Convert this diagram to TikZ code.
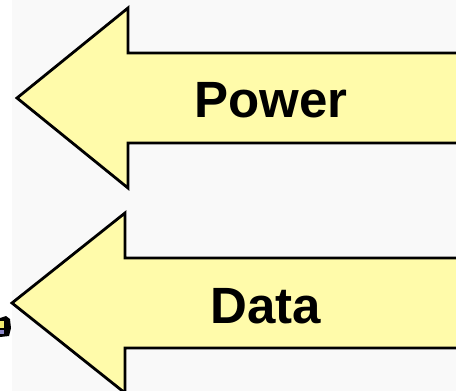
\documentclass[tikz,border=0pt]{standalone}
\usepackage{fontspec}
\setmainfont{Liberation Sans}
\definecolor{bgray}{HTML}{F9F9F9}
\definecolor{pale}{HTML}{FFFBAA}
\definecolor{iconblue}{HTML}{8A86C8}
\definecolor{iconyel}{HTML}{F2EC70}
\begin{document}
\begin{tikzpicture}[x=1pt,y=-1pt,
  bigarrow/.style={fill=pale,draw=black,line width=2.8pt,line join=miter},
  label/.style={font=\bfseries\fontsize{51}{51}\selectfont,text=black,inner sep=0pt}]
\useasboundingbox (0,0) rectangle (456,391);
\clip (0,0) rectangle (456,391);
% page background
\fill[white] (0,0) rectangle (12,391);
\fill[bgray] (12,0) rectangle (456,391);
% upper arrow
\draw[bigarrow] (17,98) -- (128,8) -- (128,53) -- (475,53) -- (475,143)
  -- (128,143) -- (128,188) -- cycle;
% lower arrow
\draw[bigarrow] (12,303) -- (125,213) -- (125,258) -- (475,258) -- (475,348)
  -- (125,348) -- (125,393) -- cycle;
% labels
\node[label] (power) at (271,100) {Power};
\node[label] (data) at (266,306) {Data};
% clipped icon at the left edge
\fill[black] (0,318) -- (6,316) -- (10,319) -- (11,328) -- (9,336) -- (0,337) -- cycle;
\fill[iconyel] (0,321) rectangle (4,328);
\fill[iconblue] (0,330) rectangle (4,334);
\end{tikzpicture}
\end{document}
